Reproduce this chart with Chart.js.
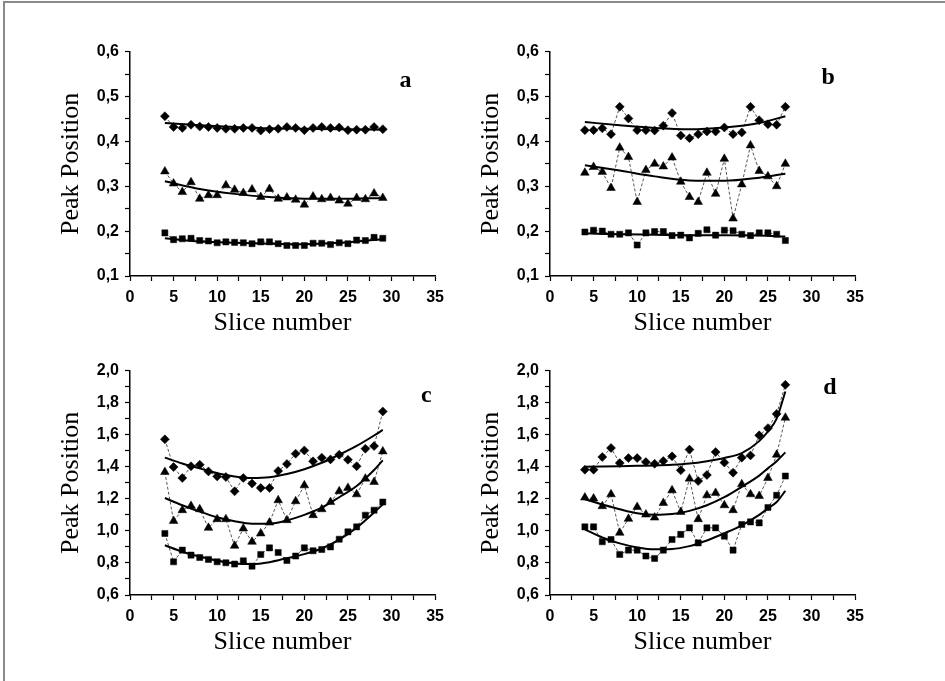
<!DOCTYPE html>
<html>
<head>
<meta charset="utf-8">
<script src="https://cdn.jsdelivr.net/npm/chart.js@4.4.1/dist/chart.umd.min.js"></script>
<style>
  html, body { margin: 0; padding: 0; background: #fff; }
  body { width: 945px; height: 681px; position: relative; overflow: hidden; }
  canvas { position: absolute; }
  #frame { position: absolute; left: 3px; top: 1px; width: 960px; height: 700px;
           border-left: 2px solid #8a8a8a; border-top: 2px solid #8a8a8a; }
</style>
</head>
<body>
<div id="frame"></div>
<canvas id="ca" width="401" height="305" style="left:50px;top:36px"></canvas>
<canvas id="cb" width="401" height="305" style="left:470px;top:36px"></canvas>
<canvas id="cc" width="401" height="305" style="left:50px;top:355px"></canvas>
<canvas id="cd" width="401" height="305" style="left:470px;top:355px"></canvas>
<script>
// ---- data ----
const sliceA = [4,5,6,7,8,9,10,11,12,13,14,15,16,17,18,19,20,21,22,23,24,25,26,27,28,29];
const sliceB = [4,5,6,7,8,9,10,11,12,13,14,15,16,17,18,19,20,21,22,23,24,25,26,27];
const sliceC = sliceA;
const sliceD = sliceB;

const aDiamond  = [0.456,0.432,0.430,0.437,0.433,0.432,0.430,0.428,0.428,0.430,0.430,0.424,0.427,0.428,0.432,0.430,0.425,0.430,0.432,0.430,0.431,0.425,0.426,0.426,0.432,0.427];
const aTriangle = [0.333,0.306,0.287,0.309,0.272,0.280,0.280,0.302,0.292,0.285,0.293,0.276,0.294,0.272,0.275,0.270,0.259,0.277,0.271,0.274,0.268,0.261,0.274,0.271,0.284,0.274];
const aSquare   = [0.196,0.181,0.183,0.184,0.179,0.178,0.174,0.176,0.175,0.174,0.172,0.176,0.176,0.172,0.168,0.168,0.168,0.173,0.173,0.170,0.174,0.172,0.180,0.179,0.186,0.184];
const aFitX = [4,8,12,16,20,24,29];
const aDiamondFit  = [0.441,0.436,0.432,0.429,0.428,0.427,0.426];
const aTriangleFit = [0.311,0.294,0.283,0.276,0.272,0.272,0.274];
const aSquareFit   = [0.184,0.177,0.174,0.172,0.171,0.174,0.182];

const bDiamond  = [0.425,0.425,0.429,0.416,0.477,0.451,0.425,0.425,0.424,0.435,0.463,0.413,0.407,0.416,0.422,0.422,0.431,0.416,0.420,0.477,0.447,0.438,0.437,0.477];
const bTriangle = [0.330,0.343,0.332,0.296,0.386,0.365,0.265,0.336,0.350,0.344,0.364,0.310,0.276,0.265,0.330,0.283,0.361,0.228,0.304,0.391,0.334,0.322,0.300,0.350];
const bSquare   = [0.198,0.202,0.200,0.193,0.193,0.196,0.169,0.196,0.199,0.199,0.190,0.191,0.185,0.195,0.203,0.191,0.202,0.201,0.193,0.190,0.196,0.196,0.193,0.179];
const bFitX = [4,8,12,16,20,24,27];
const bDiamondFit  = [0.443,0.436,0.430,0.427,0.431,0.441,0.456];
const bTriangleFit = [0.347,0.335,0.322,0.313,0.312,0.319,0.328];
const bSquareFit   = [0.195,0.193,0.192,0.191,0.191,0.190,0.188];

const cDiamond  = [1.571,1.398,1.330,1.403,1.413,1.371,1.340,1.336,1.247,1.330,1.295,1.268,1.268,1.374,1.417,1.482,1.502,1.434,1.457,1.446,1.475,1.444,1.403,1.513,1.529,1.745];
const cTriangle = [1.367,1.062,1.129,1.156,1.135,1.019,1.073,1.073,0.907,1.015,0.932,0.984,1.052,1.191,1.067,1.185,1.284,1.098,1.135,1.180,1.247,1.268,1.228,1.326,1.305,1.496];
const cSquare   = [0.984,0.807,0.880,0.849,0.834,0.822,0.807,0.801,0.793,0.813,0.780,0.853,0.894,0.865,0.815,0.843,0.894,0.876,0.884,0.900,0.948,0.994,1.025,1.098,1.129,1.180];
const cFitX = [4,6,8,10,12,14,16,18,20,22,24,26,28,29];
const cDiamondFit  = [1.457,1.42,1.39,1.36,1.34,1.33,1.335,1.355,1.385,1.425,1.475,1.53,1.595,1.63];
const cTriangleFit = [1.205,1.16,1.12,1.085,1.06,1.045,1.045,1.065,1.10,1.145,1.21,1.28,1.38,1.44];
const cSquareFit   = [0.91,0.87,0.84,0.815,0.797,0.793,0.805,0.83,0.855,0.89,0.945,1.02,1.115,1.165];

const dDiamond  = [1.382,1.382,1.461,1.517,1.423,1.454,1.454,1.429,1.419,1.436,1.465,1.378,1.507,1.311,1.349,1.492,1.426,1.363,1.457,1.471,1.596,1.641,1.730,1.911];
const dTriangle = [1.208,1.202,1.154,1.228,0.988,1.075,1.149,1.102,1.083,1.174,1.253,1.118,1.326,1.073,1.222,1.237,1.160,1.129,1.291,1.228,1.218,1.330,1.475,1.706];
const dSquare   = [1.025,1.025,0.932,0.946,0.853,0.880,0.880,0.843,0.828,0.880,0.946,0.978,1.019,0.925,1.019,1.019,0.967,0.880,1.040,1.056,1.050,1.146,1.222,1.342];
const dFitX = [4,6,8,10,12,14,16,18,20,22,24,25,26,27];
const dDiamondFit  = [1.40,1.402,1.404,1.406,1.408,1.412,1.42,1.435,1.455,1.485,1.56,1.62,1.70,1.87];
const dTriangleFit = [1.197,1.165,1.135,1.11,1.10,1.105,1.125,1.16,1.21,1.275,1.345,1.39,1.435,1.49];
const dSquareFit   = [1.009,0.959,0.922,0.897,0.885,0.887,0.905,0.94,0.985,1.035,1.10,1.14,1.18,1.25];

const xTickLabels = ['0','5','10','15','20','25','30','35'];
const yTicksSmall = ['0,1','0,2','0,3','0,4','0,5','0,6'];
const yTicksLarge = ['0,6','0,8','1,0','1,2','1,4','1,6','1,8','2,0'];
const panelLetters = ['a','b','c','d'];

// ---- helpers ----
function pts(xs, ys) { return xs.map((x, i) => ({x: x, y: ys[i]})); }

function markerSet(xs, ys, style, radius) {
  return {
    data: pts(xs, ys), showLine: true,
    borderColor: '#555', borderWidth: 1, borderDash: [3, 2],
    pointStyle: style, pointRadius: radius, pointHoverRadius: radius,
    pointBackgroundColor: '#000', pointBorderColor: '#000', pointBorderWidth: 0.5,
    order: 2
  };
}
function fitSet(xs, ys) {
  return {
    data: pts(xs, ys), showLine: true,
    borderColor: '#000', borderWidth: 2, pointRadius: 0, pointHoverRadius: 0,
    cubicInterpolationMode: 'monotone', order: 1
  };
}

const letterPlugin = {
  id: 'panelLetter',
  afterDraw(chart, args, opts) {
    const {ctx, scales} = chart;
    ctx.save();
    ctx.font = 'bold 24px "Liberation Serif", "DejaVu Serif", serif';
    ctx.fillStyle = '#000';
    ctx.textAlign = 'center';
    ctx.textBaseline = 'middle';
    ctx.fillText(opts.text, scales.x.getPixelForValue(opts.x), scales.y.getPixelForValue(opts.y));
    ctx.restore();
  }
};

const tickFont = {family: '"Liberation Sans", Arial, sans-serif', size: 16, weight: 'bold'};
const titleFont = {family: '"Liberation Serif", "Times New Roman", serif', size: 26};

function makeChart(id, datasets, yMin, yMax, yStep, yLabelStep, yLabels, letter, lx, ly) {
  new Chart(document.getElementById(id), {
    type: 'scatter',
    data: {datasets: datasets},
    plugins: [letterPlugin],
    options: {
      responsive: false, animation: false, devicePixelRatio: 1,
      layout: {padding: {left: 0, top: 15, right: 15, bottom: 0}},
      plugins: {legend: {display: false}, tooltip: {enabled: false},
                panelLetter: {text: letter, x: lx, y: ly}},
      scales: {
        x: {
          type: 'linear', min: 0, max: 35,
          afterFit(s) { s.height = 65; },
          ticks: {
            stepSize: 2.5, autoSkip: false, maxRotation: 0, color: '#000', font: tickFont, padding: 7,
            callback(v) { const k = Math.round(v / 5); return Math.abs(v - k * 5) < 1e-6 ? xTickLabels[k] : ''; }
          },
          grid: {drawOnChartArea: false, drawTicks: true, tickLength: 5, color: '#000', tickWidth: 1.2},
          border: {display: true, color: '#000', width: 1.5},
          title: {display: true, text: 'Slice number', color: '#000', font: titleFont, padding: {top: 0, bottom: 2}}
        },
        y: {
          type: 'linear', min: yMin, max: yMax,
          afterFit(s) { s.width = 80; },
          ticks: {
            stepSize: yStep, autoSkip: false, color: '#000', font: tickFont, padding: 6,
            callback(v) {
              const k = Math.round((v - yMin) / yLabelStep);
              return Math.abs(v - yMin - k * yLabelStep) < 1e-6 ? yLabels[k] : '';
            }
          },
          grid: {drawOnChartArea: false, drawTicks: true, tickLength: 5, color: '#000', tickWidth: 1.2},
          border: {display: true, color: '#000', width: 1.5},
          title: {display: true, text: 'Peak Position', color: '#000', font: titleFont, padding: {top: 6, bottom: 0}}
        }
      }
    }
  });
}

makeChart('ca', [
  fitSet(aFitX, aDiamondFit), fitSet(aFitX, aTriangleFit), fitSet(aFitX, aSquareFit),
  markerSet(sliceA, aDiamond, 'rectRot', 4.5), markerSet(sliceA, aTriangle, 'triangle', 5), markerSet(sliceA, aSquare, 'rect', 4.3)
], 0.1, 0.6, 0.05, 0.1, yTicksSmall, panelLetters[0], 31.6, 0.536);

makeChart('cb', [
  fitSet(bFitX, bDiamondFit), fitSet(bFitX, bTriangleFit), fitSet(bFitX, bSquareFit),
  markerSet(sliceB, bDiamond, 'rectRot', 4.5), markerSet(sliceB, bTriangle, 'triangle', 5), markerSet(sliceB, bSquare, 'rect', 4.3)
], 0.1, 0.6, 0.05, 0.1, yTicksSmall, panelLetters[1], 31.9, 0.542);

makeChart('cc', [
  fitSet(cFitX, cDiamondFit), fitSet(cFitX, cTriangleFit), fitSet(cFitX, cSquareFit),
  markerSet(sliceC, cDiamond, 'rectRot', 4.5), markerSet(sliceC, cTriangle, 'triangle', 5), markerSet(sliceC, cSquare, 'rect', 4.3)
], 0.6, 2.0, 0.1, 0.2, yTicksLarge, panelLetters[2], 34.0, 1.844);

makeChart('cd', [
  fitSet(dFitX, dDiamondFit), fitSet(dFitX, dTriangleFit), fitSet(dFitX, dSquareFit),
  markerSet(sliceD, dDiamond, 'rectRot', 4.5), markerSet(sliceD, dTriangle, 'triangle', 5), markerSet(sliceD, dSquare, 'rect', 4.3)
], 0.6, 2.0, 0.1, 0.2, yTicksLarge, panelLetters[3], 32.1, 1.894);
</script>
</body>
</html>
